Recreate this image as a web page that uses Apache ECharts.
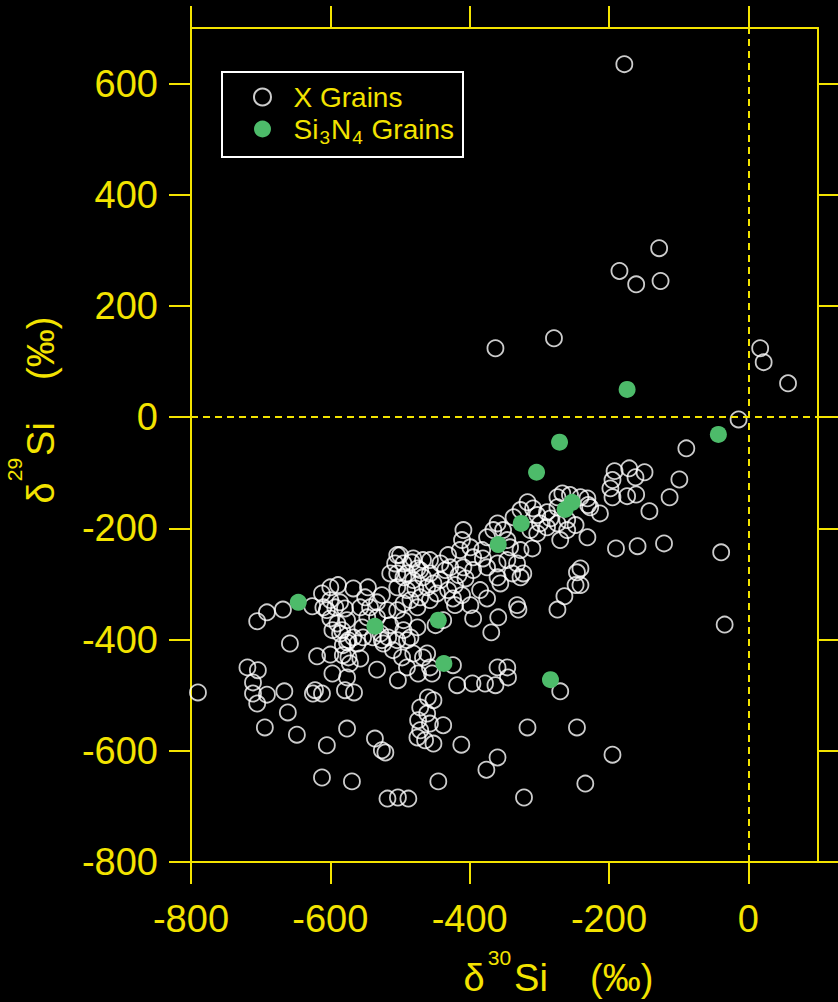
<!DOCTYPE html>
<html>
<head>
<meta charset="utf-8">
<script src="https://cdn.jsdelivr.net/npm/echarts@6/dist/echarts.min.js"></script>
<style>
html,body{margin:0;padding:0;background:#000;}
#chart{width:838px;height:1002px;}
</style>
</head>
<body>
<div id="chart"></div>
<script>
// ---- data ----
const xTicks = [-800, -600, -400, -200, 0];
const yTicks = [-800, -600, -400, -200, 0, 200, 400, 600];
const seriesNames = ['X Grains', 'Si3N4 Grains'];

// X grains: delta30Si, delta29Si (permil)
const xGrainsD30 = [
 -178,-128,-185,-161,-126,-363,-279,17,22,57,
 -14,-89,-99,-113,-142,-192,-171,-149,-162,-195,-198,-195,-174,-161,-231,-230,-213,-231,-190,-159,-121,-241,-241,-39,-34,
 -327,-356,-246,-248,-264,-274,-332,-330,-395,-359,-369,-385,-424,-449,-438,-461,-424,-454,-418,-396,-378,-363,-360,-346,-345,-270,-438,-412,-317,-246,-195,-360,-376,-445,-234,-322,
 -790,-658,-719,-704,-711,-711,-691,-705,-666,-661,-694,-648,-619,-600,-597,-625,-622,-612,-582,-574,-557,-572,-576,-579,-566,-586,-567,-576,-533,-524,-504,-485,-510,-497,-481,-467,-490,-474,-457,-503,-576,-605,-536,-526,-521,-612,-569,-518,-503,-488,-460,-452,-471,-461,-474,-457,-471,-475,-464,-452,
 -705,-691,-668,-626,-612,-600,-589,-600,-593,-586,-579,-605,-600,-610,-590,-576,-583,-597,-567,-557,-546,-550,-543,-533,-526,-547,-533,-554,-518,-514,-528,-504,-495,-574,-582,-561,-553,-539,-526,-517,-490,-495,-475,-504,-495,-483,-475,-467,-504,-495,-481,-467,-457,-504,-490,-478,-461,-452,-447,-471,-485,-457,-495,-475,
 -317,-309,-327,-337,-303,-289,-274,-267,-256,-241,-227,-274,-284,-299,-313,-303,-289,-274,-260,-248,-260,-270,-310,-327,-342,-352,-346,-366,-375,-360,-382,-409,-411,-414,-399,-395,-381,-431,-442,-457,-471,-481,-500,-507,-490,-514,-428,-409,-395,-375,-360,-346,-332,-323,-339,-360,
 -442,-421,-406,-431,-411,-399,-421,-375,-435,-416
];
const xGrainsD29 = [
 635,304,263,239,245,124,142,124,99,61,
 -4,-56,-112,-144,-169,-97,-92,-99,-108,-113,-128,-144,-142,-139,-146,-158,-173,-216,-236,-232,-227,-272,-302,-243,-373,
 -288,-299,-279,-302,-322,-346,-338,-346,-362,-360,-387,-311,-326,-374,-365,-425,-446,-461,-482,-479,-479,-482,-450,-450,-468,-493,-554,-589,-558,-558,-607,-612,-634,-655,-659,-684,
 -495,-407,-450,-455,-477,-497,-499,-515,-493,-531,-558,-571,-430,-427,-461,-497,-491,-497,-428,-432,-434,-443,-468,-491,-495,-389,-396,-405,-454,-407,-401,-396,-419,-432,-425,-432,-450,-461,-450,-473,-560,-590,-578,-599,-603,-648,-655,-686,-684,-686,-504,-509,-522,-533,-545,-551,-563,-576,-581,-587,
 -367,-351,-346,-340,-317,-306,-302,-329,-342,-333,-344,-347,-362,-342,-371,-365,-383,-383,-308,-342,-306,-324,-342,-333,-320,-360,-360,-378,-347,-374,-389,-347,-365,-401,-410,-407,-396,-396,-401,-396,-401,-383,-378,-248,-263,-261,-272,-257,-281,-288,-293,-288,-281,-306,-311,-308,-306,-299,-317,-324,-329,-329,-335,-342,
 -153,-164,-167,-180,-176,-171,-144,-137,-140,-144,-162,-162,-182,-191,-203,-209,-198,-191,-185,-194,-203,-221,-236,-239,-234,-203,-221,-203,-216,-191,-239,-203,-221,-239,-234,-252,-254,-248,-263,-257,-275,-254,-248,-263,-281,-281,-270,-270,-275,-270,-263,-257,-263,-281,-281,-288,
 -293,-302,-290,-311,-320,-338,-338,-326,-275,-284
];

// Si3N4 grains
const si3n4D30 = [-174, -43, -271, -304, -253, -263, -326, -359, -646, -536, -445, -437, -284];
const si3n4D29 = [50, -31, -45, -99, -153, -166, -191, -229, -333, -376, -365, -443, -472];

// ---- styling ----
const YEL = '#f3e300';
const GREEN = '#4dbb6a';
const FONT = '"Liberation Sans", Arial, Helvetica, sans-serif';

const zip = (a, b) => a.map((v, i) => [v, b[i]]);

const axisLineStyle = { color: YEL, width: 2 };

const chart = echarts.init(document.getElementById('chart'), null, { renderer: 'svg' });
chart.setOption({
  backgroundColor: '#000',
  animation: false,
  grid: { left: 191, right: 20, top: 28, bottom: 140, containLabel: false, outerBoundsMode: 'none' },
  legend: {
    orient: 'vertical',
    left: 222, top: 72,
    padding: [11, 9, 10, 31],
    itemWidth: 52, itemHeight: 17, itemGap: 4,
    borderColor: '#ffffff', borderWidth: 2,
    selectedMode: false,
    data: seriesNames,
    formatter: function (name) {
      return name === 'X Grains' ? '{t|X Grains}' : '{t|Si}{s|3}{t|N}{s|4}{t| Grains}';
    },
    textStyle: {
      color: YEL, fontSize: 28, fontFamily: FONT, lineHeight: 28,
      rich: {
        t: { color: YEL, fontSize: 28, fontFamily: FONT, lineHeight: 28 },
        s: { color: YEL, fontSize: 19, fontFamily: FONT, lineHeight: 14, verticalAlign: 'top', padding: [13, 1, 0, 1] }
      }
    }
  },
  xAxis: [{
    type: 'value', position: 'bottom', min: -800, max: 100, interval: 200,
    axisLine: { onZero: false, lineStyle: axisLineStyle },
    axisTick: { customValues: xTicks, length: 22, lineStyle: axisLineStyle },
    axisLabel: { customValues: xTicks, color: YEL, fontSize: 38, fontFamily: FONT, margin: 38 },
    splitLine: { show: false },
    name: '{d|δ}{sup|30}{d|Si    (‰)}',
    nameLocation: 'middle', nameGap: 85,
    nameTextStyle: {
      padding: [0, 0, 0, 108],
      rich: {
        d: { color: YEL, fontSize: 38, fontFamily: FONT, lineHeight: 61 },
        sup: { color: YEL, fontSize: 21, fontFamily: FONT, lineHeight: 16, verticalAlign: 'top', padding: [0, 3, 0, 3] }
      }
    }
  }, {
    type: 'value', position: 'top', min: -800, max: 100, interval: 200,
    axisLine: { onZero: false, lineStyle: axisLineStyle },
    axisTick: { customValues: xTicks, length: 22, lineStyle: axisLineStyle },
    axisLabel: { show: false },
    splitLine: { show: false }
  }],
  yAxis: [{
    type: 'value', position: 'left', min: -800, max: 700, interval: 200,
    axisLine: { onZero: false, lineStyle: axisLineStyle },
    axisTick: { customValues: yTicks, length: 22, lineStyle: axisLineStyle },
    axisLabel: { customValues: yTicks, color: YEL, fontSize: 38, fontFamily: FONT, margin: 33 },
    splitLine: { show: false },
    name: '{d|δ}{sup|29}{d|Si    (‰)}',
    nameLocation: 'middle', nameGap: 114,
    nameTextStyle: {
      padding: [0, 0, 0, 70],
      rich: {
        d: { color: YEL, fontSize: 38, fontFamily: FONT, lineHeight: 73 },
        sup: { color: YEL, fontSize: 21, fontFamily: FONT, lineHeight: 8, verticalAlign: 'top', padding: [0, 2, 0, 1] }
      }
    }
  }, {
    type: 'value', position: 'right', min: -800, max: 700, interval: 200,
    axisLine: { onZero: false, lineStyle: axisLineStyle },
    axisTick: { customValues: yTicks, length: 20, lineStyle: axisLineStyle },
    axisLabel: { show: false },
    splitLine: { show: false }
  }],
  series: [{
    name: seriesNames[0],
    type: 'scatter',
    symbol: 'circle', symbolSize: 16,
    itemStyle: { color: 'rgba(0,0,0,0)', borderColor: '#ffffff', borderWidth: 1.8 },
    data: zip(xGrainsD30, xGrainsD29),
    markLine: {
      silent: true, symbol: 'none', animation: false,
      label: { show: false },
      lineStyle: { color: YEL, width: 2, type: [7, 5] },
      data: [{ xAxis: 0 }, { yAxis: 0 }]
    },
    z: 2
  }, {
    name: seriesNames[1],
    type: 'scatter',
    symbol: 'circle', symbolSize: 17,
    itemStyle: { color: GREEN, opacity: 1 },
    data: zip(si3n4D30, si3n4D29),
    z: 3
  }]
});
</script>
</body>
</html>
